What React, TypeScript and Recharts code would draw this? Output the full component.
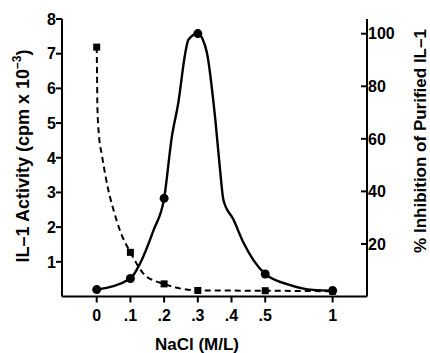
import { ComposedChart, Line, Scatter, XAxis, YAxis } from "recharts";

// x axis is broken after .5, so samples are placed on a position scale (1 M sits at 7)
const tickPos = [0, 1, 2, 3, 4, 5, 7];
const tickLabels = ["0", ".1", ".2", ".3", ".4", ".5", "1"];
const leftTicks = [1, 2, 3, 4, 5, 6, 7, 8];
const rightTicks = [20, 40, 60, 80, 100];

// measured fractions
const samplePos = [0, 1, 2, 3, 5, 7];
const activity = [0.2, 0.52, 2.83, 7.58, 0.65, 0.17];
const inhibition = [94.9, 16.8, 4.8, 2.3, 2.2, 2.0];

// hand-drawn curves
const activityCurvePos = [0, 1, 1.29, 1.69, 2, 2.23, 2.42, 2.63, 2.72, 3, 3.15, 3.27, 3.52, 3.66, 3.76, 4.06, 4.36, 4.65, 5, 5.74, 6.42, 7];
const activityCurveVal = [0.2, 0.52, 0.96, 1.92, 2.83, 4.61, 5.58, 7.03, 7.4, 7.58, 7.4, 7.03, 5.09, 3.65, 2.78, 2.21, 1.54, 1.05, 0.65, 0.33, 0.19, 0.17];
const inhibitionCurvePos = [0, 0.01, 0.02, 0.06, 0.16, 0.34, 0.52, 0.71, 1, 1.44, 2, 3, 5, 7];
const inhibitionCurveVal = [94.9, 85, 72.4, 62.3, 53.4, 40.8, 32, 24.4, 16.8, 8.0, 4.8, 2.3, 2.2, 2.0];

const activityPts = samplePos.map((pos, i) => ({ pos, v: activity[i] }));
const inhibitionPts = samplePos.map((pos, i) => ({ pos, v: inhibition[i] }));
const activityCurve = activityCurvePos.map((pos, i) => ({ pos, v: activityCurveVal[i] }));
const inhibitionCurve = inhibitionCurvePos.map((pos, i) => ({ pos, v: inhibitionCurveVal[i] }));

const font = "'Liberation Sans', Arial, Helvetica, sans-serif";
const tickStyle = { fontFamily: font, fontWeight: 700, fontSize: 16, fill: "#000" };
const titleStyle = { fontFamily: font, fontWeight: 700, fontSize: 17, fill: "#000" };

const LeftTick = (props: any) => {
  const { x, y, payload } = props;
  return (
    <g>
      <line x1={x - 6} x2={x} y1={y} y2={y} stroke="#000" strokeWidth={2} />
      <text x={x - 6} y={y} dy="0.36em" textAnchor="end" {...tickStyle}>
        {payload.value}
      </text>
    </g>
  );
};

const RightTick = (props: any) => {
  const { x, y, payload } = props;
  return (
    <g>
      <line x1={x - 6} x2={x} y1={y} y2={y} stroke="#000" strokeWidth={2} />
      <text x={x + 1} y={y} dy="0.36em" textAnchor="start" {...tickStyle}>
        {payload.value}
      </text>
    </g>
  );
};

const BottomTick = (props: any) => {
  const { x, y, payload } = props;
  const label = tickLabels[tickPos.indexOf(payload.value)];
  return (
    <g>
      <line x1={x} x2={x} y1={y} y2={y + 6} stroke="#000" strokeWidth={2} />
      <text x={x} y={y + 24} textAnchor="middle" {...tickStyle}>
        {label}
      </text>
    </g>
  );
};

const Square = (props: any) => (
  <rect x={props.cx - 3.5} y={props.cy - 3.5} width={7} height={7} fill="#000" />
);
const Dot = (props: any) => <circle cx={props.cx} cy={props.cy} r={4.5} fill="#000" />;

export default function App() {
  return (
    <div style={{ width: 430, height: 353, overflow: "hidden" }}>
      <style>{"body { margin: 0; }"}</style>
      <ComposedChart width={430} height={353} margin={{ top: 19, right: 0, bottom: 0, left: 0 }}>
        <XAxis
          dataKey="pos"
          type="number"
          domain={[-1.03, 8.02]}
          ticks={tickPos}
          interval={0}
          height={56.5}
          tickSize={0}
          tickMargin={0}
          tickLine={false}
          axisLine={{ stroke: "#000", strokeWidth: 2 }}
          tick={<BottomTick />}
          allowDataOverflow
        />
        <YAxis
          yAxisId="left"
          type="number"
          domain={[0, 8]}
          ticks={leftTicks}
          interval={0}
          width={62}
          tickSize={0}
          tickMargin={0}
          tickLine={false}
          axisLine={{ stroke: "#000", strokeWidth: 2 }}
          tick={<LeftTick />}
          allowDataOverflow
        />
        <YAxis
          yAxisId="right"
          orientation="right"
          type="number"
          domain={[0, 105.6]}
          ticks={rightTicks}
          interval={0}
          width={63}
          tickSize={0}
          tickMargin={0}
          tickLine={false}
          axisLine={{ stroke: "#000", strokeWidth: 2 }}
          tick={<RightTick />}
          allowDataOverflow
        />
        <Line
          yAxisId="left"
          data={activityCurve}
          dataKey="v"
          type="monotone"
          stroke="#000"
          strokeWidth={2.4}
          dot={false}
          activeDot={false}
          isAnimationActive={false}
        />
        <Line
          yAxisId="right"
          data={inhibitionCurve}
          dataKey="v"
          type="monotone"
          stroke="#000"
          strokeWidth={2}
          strokeDasharray="6 4"
          dot={false}
          activeDot={false}
          isAnimationActive={false}
        />
        <Scatter yAxisId="left" data={activityPts} dataKey="v" shape={<Dot />} isAnimationActive={false} />
        <Scatter yAxisId="right" data={inhibitionPts} dataKey="v" shape={<Square />} isAnimationActive={false} />
        <text x={23} y={156} transform="rotate(-90 23 156)" textAnchor="middle" dominantBaseline="central" {...titleStyle} fontSize={18}>
          IL–1 Activity (cpm x 10
          <tspan dy={-6} fontSize={12}>–3</tspan>
          <tspan dy={6}>)</tspan>
        </text>
        <text x={420} y={141} transform="rotate(-90 420 141)" textAnchor="middle" dominantBaseline="central" {...titleStyle}>
          % Inhibition of Purified IL–1
        </text>
        <text x={197} y={350} textAnchor="middle" {...titleStyle}>
          NaCl (M/L)
        </text>
      </ComposedChart>
    </div>
  );
}
